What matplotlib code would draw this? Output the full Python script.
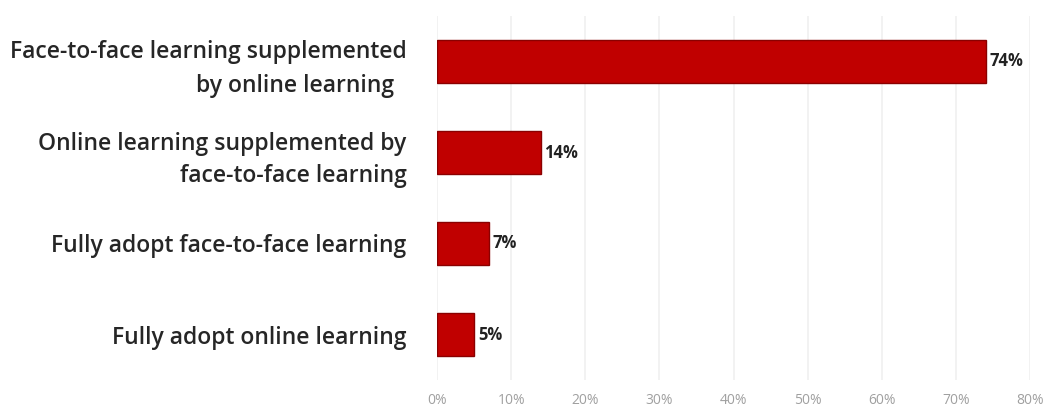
import matplotlib
matplotlib.use("Agg")
import matplotlib.pyplot as plt
from matplotlib.ticker import MultipleLocator, FuncFormatter

categories = [
    "Face-to-face learning supplemented\nby online learning  ",
    "Online learning supplemented by\nface-to-face learning",
    "Fully adopt face-to-face learning",
    "Fully adopt online learning",
]
values = [74, 14, 7, 5]
value_labels = ["74%", "14%", "7%", "5%"]

fig = plt.figure(figsize=(10.58, 4.12), dpi=100)
ax = fig.add_axes([437 / 1058, 1 - 380 / 412, (1030 - 437) / 1058, 364 / 412])

pos = list(range(len(categories)))
ax.barh(pos, values, height=0.48, color="#c00000", edgecolor="#8a0000", linewidth=1, zorder=3)
for p, v, t in zip(pos, values, value_labels):
    ax.text(v + 0.5, p, t, va="center", ha="left", fontsize=12,
            fontweight="bold", color="#222222", family="Open Sans")

ax.set_xlim(0, 80)
ax.set_ylim(3.5, -0.5)
ax.xaxis.set_major_locator(MultipleLocator(10))
ax.xaxis.set_major_formatter(FuncFormatter(lambda x, _: f"{x:.0f}%"))
ax.set_yticks(pos)
ax.set_yticklabels(categories, fontsize=16.5, family="Open Sans", fontweight="semibold",
                   color="#262626", linespacing=1.5)
ax.grid(axis="x", color="#f0f0f0", linewidth=1.2, zorder=0)
for s in ax.spines.values():
    s.set_visible(False)
ax.tick_params(axis="y", length=0, pad=22)
ax.tick_params(axis="x", length=0, pad=9, labelsize=10, labelcolor="#a0a0a0")
for lbl in ax.get_xticklabels():
    lbl.set_family("Open Sans")

fig.savefig("out.png", dpi=100, facecolor="white")
